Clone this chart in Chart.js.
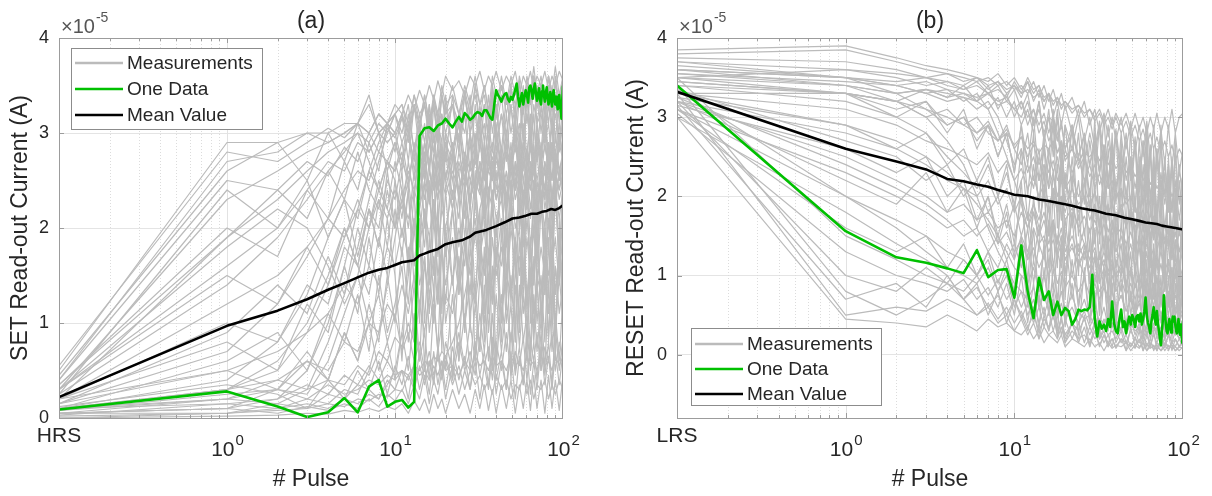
<!DOCTYPE html>
<html>
<head>
<meta charset="utf-8">
<title>SET / RESET read-out current vs pulse</title>
<script src="https://cdn.jsdelivr.net/npm/chart.js@4.4.1/dist/chart.umd.min.js"></script>
<style>
  body{margin:0;background:#fff;}
  .wrap{position:relative;width:1212px;height:496px;}
  .wrap canvas{position:absolute;top:0;}
</style>
</head>
<body>
<div class="wrap">
  <canvas id="chartA" width="606" height="496" style="left:0"></canvas>
  <canvas id="chartB" width="606" height="496" style="left:606px"></canvas>
</div>
<script>
// x positions: 0.1 stands for the initial state (HRS / LRS)
const pulses = [0.1,
  1,2,3,4,5,6,7,8,9,10,11,12,13,14,15,16,17,18,19,20,
  21,22,23,24,25,26,27,28,29,30,31,32,33,34,35,36,37,38,39,40,
  41,42,43,44,45,46,47,48,49,50,51,52,53,54,55,56,57,58,59,60,
  61,62,63,64,65,66,67,68,69,70,71,72,73,74,75,76,77,78,79,80,
  81,82,83,84,85,86,87,88,89,90,91,92,93,94,95,96,97,98,99,100];
const meanPulses = [0.1,1,2,3,4,5,6,7,8,9,10,11,12,13,14,15,16,18,20,22,25,28,30,35,40,45,50,55,60,65,70,75,80,85,90,95,100];
const measPulses = [0.1,1,2,3,4,5,6,7,8,9,10,11,12,13,14,15,16,17,18,19,20,
  22,24,26,28,30,32,34,36,38,40,43,46,49,52,55,58,61,64,67,70,74,78,82,86,90,95,100];

const xTickValues = [0.1, 1, 10, 100];
const xTickExp = ['', '0', '1', '2'];
const yTickValues = [0, 1, 2, 3, 4];

// values in units of 1e-5 A
const oneDataSet = [0.09,
  0.28,0.12,0.01,0.06,0.21,0.06,0.33,0.40,0.12,0.17,
  0.19,0.11,0.17,2.97,3.05,3.06,3.02,3.08,3.10,3.15,
  3.10,3.06,3.12,3.17,3.12,3.21,3.18,3.14,3.16,3.20,
  3.22,3.21,3.18,3.24,3.24,3.20,3.16,3.14,3.30,3.45,
  3.40,3.37,3.33,3.38,3.41,3.42,3.36,3.33,3.38,3.35,
  3.40,3.46,3.52,3.38,3.28,3.36,3.42,3.30,3.38,3.45,
  3.40,3.32,3.48,3.50,3.44,3.36,3.46,3.52,3.42,3.34,
  3.40,3.47,3.35,3.30,3.44,3.50,3.40,3.33,3.42,3.48,
  3.38,3.30,3.36,3.43,3.35,3.28,3.40,3.45,3.36,3.30,
  3.38,3.32,3.25,3.33,3.40,3.30,3.22,3.15,3.35,3.50];
const oneDataReset = [3.40,
  1.56,1.23,1.16,1.09,1.03,1.32,0.98,1.07,1.08,0.72,
  1.38,0.80,0.46,0.97,0.69,0.80,0.50,0.67,0.50,0.59,
  0.55,0.38,0.45,0.57,0.55,0.57,0.56,0.60,1.01,0.45,
  0.23,0.42,0.33,0.38,0.30,0.45,0.35,0.67,0.40,0.30,
  0.27,0.45,0.57,0.35,0.42,0.27,0.40,0.48,0.38,0.50,
  0.45,0.35,0.48,0.50,0.42,0.52,0.38,0.45,0.55,0.72,
  0.50,0.40,0.35,0.27,0.42,0.50,0.60,0.45,0.38,0.55,
  0.40,0.30,0.20,0.12,0.30,0.45,0.75,0.55,0.40,0.30,
  0.27,0.38,0.45,0.35,0.28,0.40,0.48,0.42,0.48,0.38,
  0.30,0.27,0.35,0.45,0.32,0.25,0.38,0.30,0.15,0.43];

const meanSet = [0.22,0.97,1.13,1.25,1.35,1.42,1.48,1.53,1.56,1.58,1.61,1.64,1.65,1.66,1.71,1.73,1.75,1.78,1.83,1.85,1.87,1.91,1.95,1.98,2.02,2.06,2.10,2.11,2.13,2.15,2.15,2.17,2.18,2.20,2.19,2.21,2.24];
const meanReset = [3.32,2.60,2.44,2.34,2.22,2.19,2.15,2.12,2.08,2.05,2.02,2.01,2.00,1.98,1.96,1.95,1.94,1.92,1.90,1.88,1.85,1.83,1.82,1.78,1.76,1.73,1.71,1.69,1.67,1.66,1.65,1.63,1.62,1.61,1.60,1.59,1.58];

// individual SET cycles (gray), one row per cycle, on measPulses
const measSet = [
  [0.5, 2.9,2.9,3.0,3.0,3.1,3.1,3.0,3.2,3.1,3.2, 3.3,3.1,3.4,3.2,3.3,3.1,3.4,3.2,3.5,3.3, 3.4,3.2,3.5,3.3,3.6,3.3,3.5,3.2,3.6,3.4, 3.5,3.3,3.6,3.4,3.5,3.2,3.6,3.4,3.7,3.4, 3.6,3.3,3.6,3.4,3.7,3.4,3.6],
  [0.4, 2.7,2.8,3.0,2.9,3.0,3.1,3.3,3.0,3.1,3.0, 3.2,2.9,3.3,3.0,3.4,3.1,3.3,2.9,3.4,3.1, 3.3,2.8,3.4,3.0,3.5,3.1,3.3,2.9,3.5,3.0, 3.4,2.9,3.5,3.1,3.4,2.9,3.5,3.0,3.6,3.1, 3.4,2.9,3.5,3.0,3.6,3.1,3.5],
  [0.3, 2.3,2.6,2.8,2.9,3.0,3.1,3.4,3.0,3.1,3.2, 3.0,3.3,2.8,3.2,2.9,3.3,2.7,3.1,2.9,3.4, 2.8,3.2,2.7,3.3,2.9,3.2,2.6,3.1,2.8,3.3, 2.7,3.2,2.6,3.1,2.8,3.3,2.7,3.2,2.6,3.1, 2.8,3.3,2.7,3.2,2.6,3.1,2.9],
  [0.2, 1.9,2.3,2.6,2.8,2.9,3.0,2.9,3.1,3.0,3.2, 2.9,3.1,2.6,3.0,2.7,3.2,2.8,3.0,2.5,2.9, 2.7,3.1,2.6,3.0,2.4,2.9,2.7,3.1,2.5,3.0, 2.6,2.9,2.4,3.0,2.6,3.1,2.5,2.9,2.7,3.0, 2.5,2.9,2.6,3.1,2.4,2.9,2.7],
  [0.3, 1.6,2.0,2.4,2.7,2.6,2.9,2.8,3.0,2.9,3.0, 2.7,3.0,2.5,2.9,2.6,3.1,2.4,2.8,2.6,3.0, 2.3,2.8,2.5,3.0,2.3,2.7,2.5,2.9,2.2,2.8, 2.4,2.9,2.3,2.7,2.5,2.9,2.2,2.7,2.4,2.8, 2.3,2.7,2.5,2.9,2.2,2.6,2.4],
  [0.15, 0.7,1.2,1.7,2.1,2.4,2.6,2.5,2.8,2.7,2.9, 2.6,3.0,2.7,3.1,2.5,2.9,2.8,3.2,2.6,3.0, 2.8,3.1,2.5,3.0,2.7,3.2,2.6,2.9,2.8,3.1, 2.6,3.0,2.7,3.2,2.5,2.9,2.8,3.1,2.6,3.0, 2.7,3.2,2.6,2.9,2.8,3.1,2.7],
  [0.1, 0.4,0.8,1.3,1.9,2.3,2.1,2.6,2.4,2.7,2.6, 2.8,2.4,2.9,2.5,2.8,2.3,2.7,2.5,2.9,2.4, 2.8,2.3,2.7,2.2,2.8,2.4,2.6,2.2,2.7,2.3, 2.6,2.1,2.7,2.3,2.5,2.1,2.6,2.2,2.5,2.0, 2.6,2.2,2.5,2.1,2.6,2.3,2.5],
  [0.05, 0.1,0.2,0.5,1.0,1.6,2.2,2.6,2.9,3.1,3.0, 3.2,3.0,3.3,3.1,3.4,3.1,3.3,3.0,3.4,3.2, 3.5,3.2,3.4,3.1,3.5,3.3,3.4,3.1,3.5,3.2, 3.6,3.3,3.5,3.2,3.6,3.4,3.5,3.3,3.6,3.3, 3.5,3.2,3.6,3.4,3.5,3.3,3.6],
  [0.08, 0.2,0.3,0.25,0.6,1.1,1.5,2.0,2.4,2.7,2.6, 2.9,2.5,2.8,2.3,2.9,2.6,3.0,2.4,2.8,2.5, 2.9,2.3,2.8,2.6,3.0,2.4,2.7,2.2,2.9,2.5, 2.8,2.3,2.9,2.4,2.7,2.2,2.8,2.5,2.9,2.3, 2.7,2.4,2.9,2.2,2.8,2.5,2.7],
  [0.1, 0.15,0.1,0.2,0.15,0.3,0.25,0.5,0.9,1.4,1.9, 2.3,2.6,2.4,2.8,2.5,2.9,2.6,2.3,2.8,2.5, 2.9,2.4,2.7,2.2,2.8,2.5,2.9,2.3,2.7,2.4, 2.8,2.2,2.6,2.4,2.9,2.3,2.7,2.5,2.8,2.2, 2.6,2.4,2.8,2.3,2.7,2.5,2.8],
  [0.05, 0.05,0.1,0.15,0.1,0.2,0.15,0.25,0.2,0.35,0.5, 0.9,1.5,2.0,2.4,2.6,2.3,2.7,2.4,2.8,2.5, 2.2,2.7,2.4,2.9,2.3,2.6,2.1,2.7,2.5,2.8, 2.3,2.6,2.0,2.5,2.7,2.2,2.6,2.4,2.8,2.1, 2.5,2.3,2.7,2.2,2.6,2.4,2.7],
  [0.2, 1.2,1.5,1.8,2.1,1.9,2.2,2.0,2.3,2.1,2.4, 2.2,2.5,2.0,2.6,2.3,2.7,2.1,2.5,2.4,2.8, 2.2,2.6,1.9,2.5,2.3,2.7,2.0,2.4,2.2,2.6, 1.9,2.5,2.2,2.7,2.0,2.4,2.3,2.6,1.9,2.5, 2.2,2.7,2.0,2.4,2.3,2.6,2.4],
  [0.15, 0.5,0.7,0.9,1.1,1.4,1.2,1.6,1.4,1.8,1.6, 2.0,1.7,2.1,1.8,2.2,1.9,2.3,1.7,2.2,2.0, 2.4,1.8,2.3,2.0,2.5,1.9,2.2,1.7,2.4,2.1, 2.3,1.8,2.5,2.0,2.2,1.8,2.4,2.1,2.5,1.9, 2.3,2.0,2.5,1.9,2.4,2.1,2.4],
  [0.1, 0.3,0.4,0.6,0.5,0.8,0.7,1.0,0.9,1.2,1.05, 1.4,1.1,1.5,1.2,1.6,1.3,1.7,1.2,1.8,1.4, 1.9,1.3,1.8,1.5,2.0,1.4,1.7,1.2,1.9,1.5, 1.8,1.3,2.0,1.6,1.7,1.3,1.9,1.5,2.0,1.4, 1.8,1.5,2.1,1.6,1.9,1.4,2.0],
  [0.05, 0.2,0.15,0.3,0.4,0.35,0.55,0.45,0.7,0.6,0.85, 0.75,1.0,0.8,1.2,0.9,1.3,1.0,1.4,0.9,1.3, 1.1,1.5,1.0,1.4,1.2,1.6,1.0,1.5,1.2,1.7, 1.1,1.5,1.3,1.7,1.0,1.6,1.2,1.8,1.1,1.5, 1.3,1.7,1.1,1.6,1.3,1.8,1.5],
  [0.02, 0.05,0.08,0.1,0.15,0.12,0.2,0.18,0.25,0.22,0.3, 0.28,0.45,0.3,0.55,0.35,0.6,0.4,0.7,0.45,0.8, 0.5,0.9,0.55,1.0,0.6,1.1,0.7,1.2,0.65,1.3, 0.7,1.2,0.8,1.4,0.75,1.3,0.9,1.5,0.8,1.4, 0.9,1.5,0.85,1.6,0.9,1.5,1.0],
  [0.05, 0.1,0.05,0.12,0.08,0.15,0.1,0.2,0.12,0.25,0.18, 0.3,0.15,0.35,0.2,0.45,0.15,0.4,0.25,0.5,0.2, 0.55,0.25,0.5,0.3,0.6,0.2,0.55,0.3,0.65,0.25, 0.6,0.3,0.7,0.2,0.65,0.35,0.7,0.25,0.6,0.3, 0.75,0.35,0.65,0.3,0.7,0.35,0.7],
  [0.0, 0.02,0.03,0.05,0.04,0.08,0.06,0.1,0.07,0.12,0.09, 0.15,0.05,0.18,0.08,0.2,0.05,0.25,0.1,0.2,0.05, 0.3,0.1,0.25,0.05,0.3,0.1,0.35,0.08,0.3,0.05, 0.35,0.1,0.4,0.05,0.35,0.1,0.4,0.08,0.45,0.1, 0.4,0.05,0.45,0.1,0.4,0.08,0.45],
  [0.12, 0.35,0.25,0.1,0.4,0.2,0.5,0.3,0.6,0.25,0.55, 0.35,0.65,0.3,0.7,0.4,0.6,0.35,0.75,0.45,0.65, 0.4,0.8,0.5,0.7,0.45,0.85,0.55,0.75,0.4,0.8, 0.5,0.9,0.45,0.7,0.55,0.85,0.4,0.8,0.6,0.9, 0.5,0.75,0.6,0.9,0.5,0.8,0.6],
  [0.4, 2.5,2.4,2.7,2.55,2.85,2.7,3.0,2.8,3.05,2.95, 3.15,3.0,3.25,3.1,3.3,3.0,3.35,3.15,3.4,3.2, 3.3,3.1,3.45,3.2,3.4,3.1,3.5,3.25,3.4,3.15, 3.5,3.2,3.45,3.3,3.55,3.2,3.5,3.3,3.6,3.25, 3.5,3.3,3.6,3.2,3.55,3.35,3.5],
  [0.2, 1.0,0.8,1.4,1.2,1.8,1.6,2.2,2.0,2.5,2.3, 2.7,2.5,2.85,2.6,2.9,2.7,2.95,2.65,2.85,2.55, 2.8,2.6,2.75,2.5,2.7,2.55,2.8,2.6,2.75,2.5, 2.7,2.45,2.75,2.55,2.8,2.5,2.7,2.6,2.8,2.5, 2.75,2.55,2.7,2.5,2.8,2.6,2.75],
  [0.3, 1.8,2.2,2.0,1.6,1.2,1.5,1.0,1.3,0.8,1.1, 0.7,0.9,0.6,0.8,0.5,0.7,0.45,0.65,0.4,0.6, 0.35,0.55,0.3,0.5,0.35,0.45,0.3,0.4,0.25,0.45, 0.3,0.4,0.2,0.35,0.3,0.45,0.25,0.4,0.2,0.35, 0.3,0.4,0.2,0.35,0.25,0.4,0.3],
  [0.25, 1.4,1.9,2.3,2.6,2.8,3.0,2.7,2.4,2.2,2.0, 2.3,2.1,2.4,2.2,2.5,2.25,2.55,2.3,2.5,2.35, 2.6,2.4,2.55,2.3,2.5,2.35,2.6,2.4,2.55,2.3, 2.5,2.35,2.6,2.4,2.55,2.3,2.5,2.4,2.6,2.3, 2.5,2.4,2.6,2.35,2.55,2.4,2.6],
  [0.08, 0.25,0.3,0.2,0.35,0.25,0.3,0.4,0.35,0.45,0.4, 0.5,0.45,0.55,0.5,0.6,0.55,0.65,0.6,0.7,0.65, 0.8,1.0,1.3,1.6,1.9,2.2,2.4,2.6,2.5,2.7, 2.6,2.8,2.65,2.85,2.6,2.9,2.7,2.85,2.6,2.9, 2.7,2.85,2.65,2.9,2.7,2.85,2.8],
  [0.55, 2.8,2.7,2.9,3.05,2.95,3.1,3.0,3.2,3.1,3.3, 3.2,3.4,3.25,3.45,3.3,3.5,3.35,3.55,3.4,3.6, 3.45,3.55,3.4,3.6,3.5,3.65,3.45,3.6,3.5,3.65, 3.45,3.6,3.5,3.65,3.4,3.6,3.5,3.65,3.45,3.6, 3.5,3.65,3.45,3.6,3.5,3.65,3.55],
  [0.03, 0.15,0.2,0.35,0.25,0.45,0.35,0.55,0.4,0.6,0.45, 0.5,0.4,0.55,0.45,0.5,0.4,0.55,0.45,0.6,0.5, 0.55,0.45,0.6,0.5,0.65,0.55,0.6,0.5,0.65,0.55, 0.6,0.5,0.65,0.55,0.6,0.5,0.65,0.55,0.6,0.5, 0.65,0.55,0.6,0.5,0.65,0.55,0.65],
  [0.1, 0.3,0.6,1.0,1.5,2.0,1.6,2.2,1.8,2.4,2.0, 2.6,1.5,2.4,1.0,2.2,1.4,2.7,1.2,2.5,1.7, 2.8,1.3,2.4,0.9,2.6,1.5,2.9,1.1,2.3,1.6, 2.7,1.2,2.5,0.8,2.8,1.4,2.6,1.0,2.4,1.7, 2.9,1.3,2.5,1.0,2.7,1.5,2.6],
  [0.2, 0.8,0.5,1.2,0.9,1.6,1.1,1.9,1.3,2.1,1.5, 0.6,1.8,0.8,2.0,0.5,1.6,1.0,2.2,0.7,1.9, 0.4,1.7,0.9,2.1,0.6,1.5,1.1,2.3,0.5,1.8, 0.8,2.0,0.4,1.6,1.0,2.2,0.6,1.9,0.9,1.5, 0.5,2.0,0.8,1.7,0.6,2.1,0.9],
  [0.35, 2.0,1.7,2.4,2.1,2.7,2.4,2.9,2.6,3.1,2.8, 3.2,2.7,3.3,2.8,3.1,2.6,3.3,2.9,3.2,2.7, 3.4,2.8,3.2,2.6,3.3,2.9,3.1,2.7,3.4,2.8, 3.2,2.7,3.3,2.9,3.1,2.6,3.4,2.8,3.2,2.7, 3.3,2.9,3.1,2.7,3.4,2.8,3.2],
  [0.1, 0.2,0.4,0.3,0.8,1.3,1.8,2.3,2.7,3.0,3.2, 3.3,3.0,3.4,3.1,3.3,2.9,3.4,3.1,3.2,3.0, 3.3,2.9,3.4,3.0,3.2,2.8,3.3,3.0,3.4,2.9, 3.2,3.0,3.3,2.8,3.4,3.0,3.2,2.9,3.3,3.1, 3.2,2.9,3.3,3.0,3.2,2.9,3.3],
  [0.3, 1.5,1.2,1.8,1.4,2.0,1.6,1.3,1.9,1.5,2.2, 1.7,2.4,1.4,2.1,1.0,1.9,1.3,2.3,1.1,2.0, 1.4,2.4,0.9,1.8,1.2,2.2,0.8,1.7,1.3,2.1, 1.0,2.3,1.2,1.9,0.9,2.2,1.1,1.8,1.4,2.4, 1.0,2.0,1.3,2.3,0.9,1.9,1.2],
  [0.1, 0.6,0.9,0.5,1.1,0.8,1.3,0.7,1.5,0.9,1.2, 1.6,0.8,1.4,0.6,1.7,0.9,1.3,0.7,1.8,1.0, 1.5,0.6,1.9,1.1,1.4,0.7,1.8,0.9,1.6,0.6, 2.0,1.0,1.5,0.8,1.9,1.1,1.4,0.7,1.7,1.0, 1.5,0.8,1.9,0.9,1.6,1.1,1.4],
  [0.25, 2.4,2.0,2.5,1.9,2.3,1.7,2.2,1.8,2.6,2.0, 2.4,1.6,2.1,1.9,2.5,1.5,2.3,2.0,2.6,1.7, 2.2,1.4,2.5,1.8,2.1,1.6,2.4,1.3,2.2,1.9, 2.6,1.5,2.3,1.7,2.0,1.4,2.5,1.8,2.2,1.6, 2.4,1.3,2.1,1.7,2.5,1.5,2.2],
  [0.15, 0.9,1.4,1.1,1.7,1.3,2.0,1.6,2.3,1.8,2.5, 2.1,2.7,2.3,2.9,2.0,2.6,2.4,2.9,2.2,2.8, 2.5,3.0,2.1,2.7,2.4,3.1,2.2,2.8,2.5,3.0, 2.3,2.9,2.6,3.1,2.2,2.8,2.5,3.0,2.3,2.9, 2.6,3.1,2.4,2.8,2.5,3.0,2.7],
  [0.05, 0.1,0.3,0.6,0.4,0.9,0.6,1.2,0.8,1.5,1.0, 1.8,1.2,2.0,1.4,1.7,1.1,2.1,1.5,1.8,1.2, 2.2,1.6,1.9,1.3,2.3,1.7,2.0,1.4,2.4,1.6, 2.1,1.3,2.2,1.8,2.5,1.5,2.1,1.7,2.4,1.4, 2.2,1.8,2.5,1.6,2.3,1.7,2.4],
  [0.45, 2.6,2.9,2.5,3.0,2.7,3.1,2.8,3.0,2.6,2.9, 2.7,3.2,2.8,3.1,2.6,3.3,2.9,3.2,2.7,3.3, 2.8,3.2,3.0,3.4,2.8,3.3,2.9,3.4,3.0,3.3, 2.8,3.4,3.0,3.3,2.9,3.5,3.1,3.4,2.9,3.5, 3.0,3.4,3.1,3.5,2.9,3.4,3.1],
  [0.2, 0.5,0.3,0.7,0.4,0.9,0.6,1.0,0.5,0.8,0.4, 0.9,0.5,1.1,0.6,0.9,0.4,1.2,0.7,1.0,0.5, 1.3,0.6,1.1,0.5,1.2,0.7,1.4,0.6,1.1,0.5, 1.3,0.7,1.2,0.5,1.4,0.8,1.1,0.6,1.3,0.7, 1.2,0.5,1.4,0.7,1.1,0.6,1.3],
  [0.08, 0.3,0.5,0.9,1.4,1.9,2.3,2.0,2.5,2.2,2.7, 2.4,2.0,2.6,2.2,2.8,2.3,2.0,2.7,2.4,2.9, 2.5,2.1,2.7,2.3,2.9,2.4,2.1,2.8,2.5,3.0, 2.6,2.2,2.8,2.4,3.0,2.5,2.2,2.9,2.6,3.1, 2.7,2.3,2.9,2.5,3.0,2.6,2.8],
  [0.0, 0.05,0.15,0.1,0.25,0.2,0.35,0.3,0.2,0.4,0.3, 0.5,0.2,0.6,0.3,0.55,0.25,0.7,0.35,0.6,0.3, 0.75,0.4,0.65,0.3,0.8,0.45,0.7,0.35,0.85,0.4, 0.7,0.3,0.9,0.45,0.75,0.35,0.95,0.5,0.8,0.4, 0.9,0.45,0.8,0.35,0.95,0.5,0.85],
  [0.35, 1.9,2.4,2.1,2.6,2.3,2.8,2.4,2.2,2.7,2.5, 1.9,2.4,1.6,2.2,1.8,2.5,1.5,2.1,1.7,2.4, 1.4,2.0,1.6,2.3,1.3,1.9,1.5,2.2,1.2,1.8, 1.6,2.1,1.3,1.9,1.5,2.2,1.2,1.8,1.4,2.0, 1.1,1.7,1.5,2.0,1.3,1.8,1.4]
];

// individual RESET cycles (gray), one row per cycle, on measPulses
const measReset = [
  [3.8, 3.85,3.7,3.6,3.55,3.5,3.45,3.5,3.4,3.45,3.35, 3.4,3.3,3.45,3.25,3.4,3.2,3.35,3.15,3.3,3.1, 3.25,3.0,3.2,2.9,3.1,2.8,3.05,2.75,3.0,2.7, 3.0,2.6,2.95,2.55,2.9,2.5,2.95,2.45,2.9,2.4, 2.85,2.4,2.9,2.35,2.8,2.3,2.6],
  [3.7, 3.6,3.55,3.5,3.45,3.4,3.5,3.35,3.45,3.3,3.4, 3.25,3.45,3.2,3.35,3.1,3.3,3.0,3.2,2.9,3.15, 2.8,3.1,2.7,3.0,2.6,2.95,2.5,2.9,2.4,2.85, 2.3,2.8,2.2,2.75,2.1,2.7,2.0,2.65,1.9,2.6, 1.9,2.5,1.8,2.45,1.7,2.4,1.9],
  [3.6, 3.5,3.4,3.45,3.35,3.3,3.25,3.3,3.2,3.25,3.1, 3.2,3.0,3.1,2.9,3.05,2.8,3.0,2.7,2.95,2.6, 2.9,2.5,2.8,2.4,2.7,2.3,2.65,2.2,2.6,2.1, 2.5,2.0,2.45,1.9,2.4,1.85,2.3,1.8,2.25,1.7, 2.2,1.6,2.1,1.55,2.0,1.5,1.9],
  [3.5, 3.4,3.3,3.35,3.25,3.3,3.2,3.4,3.1,3.3,3.0, 3.2,2.9,3.1,2.8,2.95,2.7,2.85,2.55,2.7,2.45, 2.6,2.35,2.5,2.25,2.4,2.15,2.3,2.1,2.2,2.0, 2.1,1.9,2.0,1.8,1.9,1.7,1.85,1.6,1.75,1.5, 1.7,1.45,1.6,1.4,1.55,1.3,1.5],
  [3.4, 3.3,3.2,3.1,3.0,2.9,2.8,2.95,2.7,2.85,2.6, 2.75,2.5,2.65,2.4,2.55,2.3,2.45,2.2,2.35,2.1, 2.25,2.0,2.15,1.9,2.05,1.85,1.95,1.8,1.9,1.7, 1.85,1.6,1.8,1.5,1.7,1.45,1.65,1.4,1.6,1.3, 1.55,1.25,1.5,1.2,1.45,1.15,1.3],
  [3.3, 3.1,2.9,2.7,2.6,2.5,2.4,2.55,2.3,2.45,2.2, 2.35,2.1,2.25,2.0,2.15,1.9,2.05,1.8,1.95,1.7, 1.85,1.6,1.75,1.55,1.7,1.5,1.65,1.4,1.55,1.3, 1.5,1.2,1.4,1.1,1.35,1.0,1.3,0.95,1.2,0.9, 1.15,0.85,1.1,0.8,1.05,0.75,0.9],
  [3.2, 2.8,2.6,2.4,2.2,2.1,2.0,2.2,1.9,2.1,1.8, 2.0,1.7,1.9,1.6,1.8,1.5,1.7,1.4,1.6,1.3, 1.5,1.25,1.4,1.2,1.35,1.1,1.3,1.05,1.2,1.0, 1.15,0.9,1.1,0.85,1.0,0.8,0.95,0.75,0.9,0.7, 0.85,0.65,0.8,0.6,0.75,0.55,0.7],
  [3.1, 2.3,2.0,1.8,1.6,1.7,1.5,1.65,1.4,1.55,1.3, 1.45,1.2,1.35,1.1,1.25,1.0,1.15,0.9,1.05,0.85, 1.0,0.8,0.95,0.75,0.9,0.7,0.85,0.65,0.8,0.6, 0.75,0.55,0.7,0.5,0.7,0.45,0.65,0.4,0.6,0.4, 0.55,0.35,0.5,0.3,0.5,0.3,0.45],
  [3.3, 0.5,0.6,0.55,0.7,0.6,0.5,0.65,0.45,0.6,0.4, 0.55,0.35,0.5,0.3,0.45,0.35,0.5,0.3,0.45,0.25, 0.4,0.3,0.45,0.25,0.4,0.2,0.35,0.25,0.3,0.2, 0.35,0.15,0.3,0.2,0.35,0.15,0.3,0.1,0.25,0.15, 0.3,0.1,0.25,0.15,0.2,0.1,0.2],
  [3.4, 0.8,0.5,0.7,0.9,0.8,1.0,0.75,0.95,0.7,0.85, 0.6,0.8,0.55,0.75,0.5,0.7,0.45,0.65,0.5,0.6, 0.4,0.55,0.45,0.5,0.35,0.45,0.4,0.5,0.35,0.45, 0.3,0.45,0.35,0.4,0.3,0.45,0.25,0.4,0.3,0.35, 0.25,0.4,0.3,0.35,0.25,0.35,0.3],
  [3.2, 1.0,0.8,1.1,0.9,1.2,1.0,1.3,1.1,1.4,1.2, 1.5,1.3,1.6,1.4,1.5,1.3,1.45,1.25,1.4,1.2, 1.35,1.15,1.3,1.1,1.25,1.05,1.2,1.0,1.15,0.95, 1.1,0.9,1.05,0.85,1.0,0.8,0.95,0.75,0.9,0.7, 0.85,0.7,0.8,0.65,0.75,0.6,0.7],
  [3.5, 1.5,1.2,1.0,0.9,0.7,0.85,0.6,0.75,0.5,0.7, 0.45,0.65,0.4,0.6,0.35,0.55,0.3,0.5,0.25,0.45, 0.2,0.4,0.15,0.35,0.2,0.3,0.15,0.25,0.1,0.3, 0.15,0.25,0.1,0.2,0.15,0.25,0.1,0.2,0.05,0.15, 0.1,0.2,0.05,0.15,0.1,0.2,0.1],
  [3.0, 0.45,0.4,0.35,0.5,0.4,0.3,0.45,0.35,0.4,0.3, 0.25,0.35,0.2,0.3,0.15,0.25,0.2,0.15,0.25,0.1, 0.2,0.15,0.1,0.2,0.1,0.15,0.05,0.15,0.08,0.12, 0.1,0.15,0.05,0.12,0.08,0.15,0.05,0.1,0.08,0.12, 0.05,0.1,0.08,0.12,0.05,0.1,0.08],
  [3.6, 3.4,3.2,3.0,2.7,2.4,2.0,1.6,1.3,1.1,0.9, 0.8,0.7,0.85,0.6,0.75,0.55,0.7,0.5,0.65,0.45, 0.6,0.4,0.55,0.35,0.5,0.3,0.45,0.35,0.4,0.3, 0.45,0.25,0.4,0.3,0.35,0.25,0.4,0.2,0.35,0.25, 0.3,0.2,0.35,0.25,0.3,0.2,0.3],
  [3.3, 3.3,3.2,3.35,3.25,3.4,3.2,3.1,2.8,2.5,2.2, 1.9,1.6,1.8,1.5,1.7,1.4,1.6,1.3,1.5,1.2, 1.4,1.1,1.3,1.0,1.2,0.9,1.1,0.85,1.0,0.8, 0.95,0.75,0.9,0.7,0.85,0.65,0.8,0.6,0.75,0.55, 0.7,0.5,0.65,0.45,0.6,0.4,0.55],
  [3.5, 3.6,3.5,3.4,3.45,3.35,3.4,3.3,3.35,3.25,3.45, 3.3,3.5,3.35,3.4,3.2,3.3,3.0,2.8,2.5,2.2, 1.9,1.6,1.4,1.2,1.0,0.8,0.9,0.7,0.8,0.6, 0.75,0.55,0.7,0.5,0.65,0.45,0.6,0.4,0.55,0.35, 0.5,0.3,0.45,0.3,0.4,0.25,0.35],
  [3.1, 2.0,1.6,1.3,1.1,1.0,0.9,1.1,0.8,1.0,0.6, 0.8,0.5,0.7,0.4,0.6,0.3,0.5,0.25,0.45,0.2, 0.4,0.15,0.35,0.1,0.3,0.12,0.25,0.1,0.2,0.08, 0.2,0.05,0.15,0.08,0.2,0.05,0.15,0.08,0.12,0.05, 0.15,0.05,0.12,0.08,0.1,0.05,0.1],
  [3.4, 3.2,3.0,2.8,2.5,2.3,2.1,2.4,2.0,2.3,1.9, 2.2,2.4,2.1,2.5,2.2,2.6,2.3,2.5,2.2,2.6, 2.3,2.5,2.2,2.4,2.1,2.3,2.0,2.2,1.9,2.1, 1.8,2.0,1.7,1.9,1.6,1.85,1.5,1.8,1.45,1.7, 1.4,1.65,1.35,1.6,1.3,1.55,1.4],
  [3.7, 3.5,3.3,3.1,2.9,3.0,2.8,2.9,2.7,2.8,2.65, 2.75,2.6,2.7,2.55,2.65,2.6,2.7,2.55,2.65,2.5, 2.6,2.45,2.55,2.5,2.6,2.45,2.55,2.4,2.5,2.35, 2.45,2.3,2.4,2.25,2.35,2.2,2.3,2.15,2.25,2.1, 2.2,2.05,2.15,2.0,2.1,1.95,2.05],
  [3.2, 2.5,2.2,2.0,1.8,1.9,1.7,1.8,1.6,1.7,1.5, 1.8,1.6,1.9,1.7,2.0,1.8,2.1,1.9,2.0,1.8, 2.1,1.9,2.0,1.85,2.05,1.8,2.0,1.75,1.95,1.7, 1.9,1.65,1.85,1.6,1.8,1.55,1.75,1.5,1.7,1.45, 1.65,1.4,1.6,1.35,1.55,1.3,1.5],
  [3.85, 3.9,3.75,3.65,3.6,3.55,3.5,3.45,3.55,3.4,3.5, 3.35,3.45,3.3,3.4,3.25,3.3,3.2,3.25,3.15,3.2, 3.1,3.15,3.05,3.1,3.0,3.1,2.95,3.1,2.9,3.05, 2.9,3.05,2.85,3.05,2.85,3.0,2.8,3.0,2.85,3.05, 2.8,3.0,2.85,3.1,2.8,3.0,3.05],
  [3.0, 1.8,1.4,1.2,1.0,0.7,0.5,0.6,0.4,0.5,0.3, 0.45,0.25,0.4,0.2,0.35,0.25,0.3,0.2,0.35,0.15, 0.3,0.2,0.25,0.15,0.3,0.1,0.25,0.15,0.2,0.1, 0.2,0.15,0.1,0.2,0.1,0.15,0.05,0.15,0.1,0.12, 0.05,0.15,0.1,0.12,0.05,0.1,0.08],
  [3.55, 3.45,3.4,3.3,3.2,3.25,3.1,3.2,3.0,2.7,2.4, 2.6,2.3,2.5,2.2,2.4,2.1,2.3,2.0,2.2,1.9, 2.1,1.8,2.0,1.7,1.9,1.6,1.8,1.55,1.7,1.5, 1.6,1.4,1.55,1.3,1.5,1.25,1.4,1.2,1.35,1.1, 1.3,1.05,1.2,1.0,1.15,0.95,1.1],
  [3.25, 2.9,2.7,2.5,2.3,2.1,1.9,1.7,1.5,1.3,1.1, 1.0,0.9,1.1,0.8,1.0,0.7,0.9,0.6,0.8,0.55, 0.75,0.5,0.7,0.45,0.65,0.4,0.6,0.35,0.55,0.3, 0.5,0.3,0.45,0.25,0.4,0.2,0.35,0.25,0.4,0.2, 0.35,0.2,0.3,0.15,0.3,0.2,0.25],
  [3.45, 3.3,3.1,3.2,2.9,3.0,2.7,2.9,2.5,2.8,2.3, 2.9,2.0,2.8,1.8,2.7,2.1,3.0,1.6,2.6,1.9, 2.9,1.5,2.7,1.8,3.0,1.4,2.6,1.7,2.8,1.3, 2.7,1.6,2.9,1.2,2.5,1.5,2.8,1.1,2.6,1.4, 2.9,1.0,2.5,1.3,2.7,0.9,2.4],
  [3.15, 2.6,2.3,2.5,2.0,2.2,1.7,2.0,1.4,1.8,1.2, 2.2,0.9,2.0,1.3,2.4,0.8,2.1,1.1,2.5,0.7, 2.3,1.0,2.6,0.6,2.2,0.9,2.5,0.5,2.1,0.8, 2.4,0.6,2.0,0.9,2.3,0.5,2.6,0.7,2.2,0.4, 2.0,0.8,2.4,0.5,2.1,0.6,1.9],
  [3.65, 3.5,3.45,3.5,3.4,3.35,3.45,3.3,3.4,3.2,3.35, 3.1,3.3,2.9,3.2,2.7,3.1,2.5,3.0,2.3,2.9, 2.1,2.8,1.9,2.7,2.2,2.9,1.8,2.6,2.0,2.8, 1.7,2.5,1.9,2.7,1.6,2.4,1.8,2.6,1.5,2.5, 1.7,2.3,1.4,2.4,1.6,2.2,1.5],
  [3.35, 2.0,1.7,1.5,1.3,1.2,1.0,1.3,0.9,1.2,0.8, 1.5,0.7,1.6,0.6,1.4,0.9,1.7,0.5,1.5,0.8, 1.8,0.6,1.4,0.9,1.6,0.5,1.9,0.7,1.5,0.4, 1.7,0.8,1.3,0.5,1.6,0.7,1.8,0.4,1.4,0.6, 1.6,0.3,1.5,0.7,1.3,0.4,1.2],
  [3.75, 3.7,3.6,3.5,3.55,3.45,3.5,3.4,3.45,3.35,3.4, 3.3,3.35,3.25,3.3,3.2,3.3,3.15,3.25,3.1,3.2, 3.05,3.15,3.0,3.1,2.95,3.05,2.9,3.0,2.85,3.0, 2.8,2.95,2.75,2.9,2.7,2.85,2.65,2.8,2.6,2.75, 2.55,2.7,2.5,2.65,2.45,2.6,2.5],
  [3.05, 1.3,1.0,0.9,0.8,0.95,0.7,0.85,0.6,0.9,0.5, 1.0,0.4,0.9,0.3,1.1,0.5,0.8,0.3,1.0,0.35, 0.9,0.25,1.1,0.4,0.8,0.2,1.0,0.35,0.9,0.3, 1.1,0.25,0.8,0.35,1.0,0.2,0.9,0.3,1.2,0.25, 0.8,0.35,1.0,0.2,0.9,0.3,1.0],
  [3.3, 2.9,2.6,2.8,2.4,2.6,2.2,2.5,2.0,2.4,1.8, 2.6,1.7,2.4,1.9,2.7,1.5,2.3,1.8,2.6,1.4, 2.5,1.7,2.2,1.3,2.6,1.6,2.3,1.2,2.5,1.5, 2.1,1.1,2.4,1.4,2.0,1.0,2.3,1.3,2.5,1.2, 2.1,0.9,2.2,1.2,1.9,0.8,2.0],
  [3.2, 2.2,1.9,2.3,1.8,2.1,1.6,2.0,1.5,1.9,1.4, 2.0,1.2,1.8,1.5,2.1,1.1,1.7,1.4,2.0,1.0, 1.8,1.3,1.6,0.9,1.9,1.2,1.5,0.8,1.7,1.1, 1.4,0.7,1.8,1.0,1.5,0.6,1.6,0.9,1.3,0.5, 1.5,0.8,1.2,0.6,1.4,0.7,1.1],
  [3.5, 3.3,3.0,3.2,2.8,3.1,2.6,2.9,2.5,2.8,2.3, 2.9,2.4,3.0,2.2,2.8,2.5,3.1,2.3,2.7,2.1, 2.9,2.4,2.6,2.0,2.8,2.3,3.0,2.1,2.6,1.9, 2.8,2.2,2.5,1.8,2.7,2.0,2.9,1.9,2.5,1.7, 2.7,2.0,2.4,1.8,2.6,1.9,2.3],
  [3.1, 1.6,1.3,1.5,1.1,1.4,1.0,1.2,0.8,1.1,0.7, 1.3,0.6,1.2,0.8,1.4,0.5,1.1,0.7,1.3,0.4, 1.2,0.6,1.0,0.4,1.3,0.5,1.1,0.3,1.2,0.5, 0.9,0.3,1.1,0.4,1.0,0.2,1.2,0.4,0.9,0.3, 1.0,0.2,0.8,0.4,1.1,0.3,0.9],
  [3.6, 3.5,3.4,3.3,3.35,3.2,3.3,3.1,3.25,3.0,3.2, 2.9,3.1,2.8,3.2,2.7,3.0,2.6,3.1,2.5,2.9, 2.6,3.0,2.4,2.8,2.5,2.9,2.3,2.7,2.4,2.8, 2.2,2.7,2.3,2.6,2.1,2.7,2.2,2.5,2.0,2.6, 2.1,2.4,1.9,2.5,2.0,2.3,2.1],
  [3.35, 2.7,2.5,2.2,2.4,2.0,2.2,1.8,2.0,1.6,1.9, 1.5,1.8,1.2,1.6,1.4,1.9,1.1,1.5,1.3,1.7, 1.0,1.4,1.2,1.6,0.9,1.3,1.1,1.5,0.8,1.2, 1.0,1.4,0.7,1.1,0.9,1.3,0.6,1.0,0.8,1.2, 0.6,0.9,0.7,1.1,0.5,0.8,0.7],
  [3.45, 3.3,3.2,3.0,3.1,2.9,3.0,2.8,2.7,2.9,2.6, 2.4,2.8,2.2,2.6,2.0,2.5,1.9,2.4,1.7,2.3, 1.6,2.2,1.5,2.1,1.4,2.0,1.3,1.9,1.2,1.8, 1.1,1.7,1.0,1.6,0.9,1.5,0.8,1.4,0.7,1.3, 0.7,1.2,0.6,1.1,0.5,1.0,0.6],
  [3.15, 0.7,0.9,0.6,1.0,0.7,0.9,0.5,0.8,0.4,0.7, 0.5,0.3,0.6,0.2,0.5,0.3,0.7,0.2,0.5,0.15, 0.4,0.2,0.5,0.1,0.4,0.2,0.3,0.1,0.4,0.15, 0.3,0.05,0.35,0.1,0.3,0.05,0.25,0.1,0.3,0.05, 0.2,0.1,0.25,0.05,0.2,0.1,0.15],
  [3.55, 3.4,3.3,3.35,3.3,3.25,3.2,3.3,3.15,3.2,3.1, 3.0,3.2,2.9,3.1,2.8,3.0,2.95,2.7,2.9,2.6, 2.8,2.5,2.75,2.4,2.7,2.3,2.65,2.2,2.6,2.1, 2.55,2.0,2.5,2.1,2.4,1.9,2.45,2.0,2.35,1.8, 2.3,1.9,2.25,1.8,2.2,1.7,2.1],
  [3.25, 2.4,2.1,1.9,1.7,1.5,1.6,1.3,1.5,1.2,1.4, 1.1,1.6,0.9,1.4,1.2,1.7,0.8,1.3,1.1,1.5, 0.7,1.2,1.0,1.4,0.6,1.1,0.9,1.3,0.5,1.0, 0.8,1.2,0.5,0.9,0.7,1.1,0.4,0.8,0.6,1.0, 0.4,0.7,0.5,0.9,0.3,0.6,0.5]
];

const FONT = '"Liberation Sans", Arial, Helvetica, sans-serif';
const TXT = '#262626';
const GRAY = '#bbbbbb';
const GREEN = '#00c000';

function toPts(xs, ys) {
  return xs.map((x, i) => ({x: x, y: ys[i]}));
}

const decoPlugin = {
  id: 'deco',
  beforeDatasetsDraw(chart, args, o) {
    const ctx = chart.ctx, a = chart.chartArea, xs = chart.scales.x;
    ctx.save();
    ctx.lineWidth = 1;
    for (let n = -1; n <= 1; n++) {
      for (let k = 1; k <= 9; k++) {
        const v = k * Math.pow(10, n);
        if (v <= 0.1 || v >= 100) continue;
        const px = Math.round(xs.getPixelForValue(v)) + 0.5;
        ctx.strokeStyle = k === 1 ? '#e2e2e2' : '#dcdcdc';
        ctx.setLineDash(k === 1 ? [] : [1, 2]);
        ctx.beginPath(); ctx.moveTo(px, a.top); ctx.lineTo(px, a.bottom); ctx.stroke();
      }
    }
    ctx.restore();
  },
  afterDatasetsDraw(chart, args, o) {
    const ctx = chart.ctx, a = chart.chartArea, xs = chart.scales.x, ys = chart.scales.y;
    ctx.save();
    // axes box and inward ticks
    ctx.strokeStyle = '#9c9c9c';
    ctx.lineWidth = 1;
    ctx.strokeRect(Math.round(a.left) + 0.5, Math.round(a.top) + 0.5, Math.round(a.width) - 1, Math.round(a.height));
    ctx.beginPath();
    for (let n = -1; n <= 1; n++) {
      for (let k = 1; k <= 9; k++) {
        const v = k * Math.pow(10, n);
        if (v <= 0.1 || v >= 100) continue;
        const px = Math.round(xs.getPixelForValue(v)) + 0.5;
        const len = k === 1 ? 5 : 3;
        ctx.moveTo(px, a.bottom); ctx.lineTo(px, a.bottom - len);
        ctx.moveTo(px, a.top); ctx.lineTo(px, a.top + len);
      }
    }
    yTickValues.forEach(v => {
      const py = Math.round(ys.getPixelForValue(v)) + 0.5;
      ctx.moveTo(a.left, py); ctx.lineTo(a.left + 5, py);
      ctx.moveTo(a.right, py); ctx.lineTo(a.right - 5, py);
    });
    ctx.stroke();

    // legend
    const L = o.legend;
    ctx.fillStyle = '#fff';
    ctx.fillRect(L.x, L.y, L.w, L.h);
    ctx.strokeStyle = '#8c8c8c';
    ctx.strokeRect(L.x + 0.5, L.y + 0.5, L.w, L.h);
    const entries = [['Measurements', GRAY], ['One Data', GREEN], ['Mean Value', '#000']];
    ctx.font = '19px ' + FONT;
    ctx.textBaseline = 'middle';
    ctx.textAlign = 'left';
    entries.forEach((e, i) => {
      const yy = L.y + L.rows[i];
      ctx.strokeStyle = e[1];
      ctx.lineWidth = 2.6;
      ctx.beginPath(); ctx.moveTo(L.x + 4, yy); ctx.lineTo(L.x + 52, yy); ctx.stroke();
      ctx.fillStyle = TXT;
      ctx.fillText(e[0], L.x + 56, yy + 1);
    });

    // x tick labels
    ctx.fillStyle = TXT;
    ctx.textBaseline = 'alphabetic';
    xTickValues.forEach((v, i) => {
      const px = xs.getPixelForValue(v);
      if (i === 0) {
        ctx.font = '21px ' + FONT;
        ctx.textAlign = 'center';
        ctx.fillText(o.state, px, 442);
      } else {
        ctx.font = '21px ' + FONT;
        const wb = ctx.measureText('10').width;
        ctx.font = '15px ' + FONT;
        const we = ctx.measureText(xTickExp[i]).width;
        const x0 = px - (wb + we) / 2;
        ctx.textAlign = 'left';
        ctx.font = '21px ' + FONT;
        ctx.fillText('10', x0, 456);
        ctx.font = '15px ' + FONT;
        ctx.fillText(xTickExp[i], x0 + wb + 1, 445);
      }
    });

    // exponent marker
    ctx.fillStyle = '#555';
    ctx.textAlign = 'left';
    ctx.font = '20px ' + FONT;
    ctx.fillText('\u00d710', a.left + 2, 33);
    const wm = ctx.measureText('\u00d710').width;
    ctx.font = '14px ' + FONT;
    ctx.fillText('-5', a.left + 3 + wm, 22);

    // titles
    ctx.fillStyle = TXT;
    const cx = (a.left + a.right) / 2;
    ctx.textAlign = 'center';
    ctx.font = '23px ' + FONT;
    ctx.fillText(o.title, cx, 28);
    ctx.fillText('# Pulse', cx, 486);
    ctx.translate(o.ylabelX, (a.top + a.bottom) / 2);
    ctx.rotate(-Math.PI / 2);
    ctx.textBaseline = 'middle';
    ctx.fillText(o.ylabel, 0, 0);
    ctx.restore();
  }
};

function makeChart(id, p) {
  const datasets = [
    {label: 'Mean Value', data: toPts(meanPulses, p.mean), borderColor: '#000', borderWidth: 2.6},
    {label: 'One Data', data: toPts(pulses, p.one), borderColor: GREEN, borderWidth: 2.6}
  ];
  p.meas.forEach(m => datasets.push({label: 'Measurements', data: toPts(measPulses, m), borderColor: GRAY, borderWidth: 1.2}));
  datasets.forEach(d => { d.pointRadius = 0; d.tension = 0; d.borderJoinStyle = 'round'; d.fill = false; });

  return new Chart(document.getElementById(id), {
    type: 'line',
    data: {datasets: datasets},
    options: {
      responsive: false,
      animation: false,
      devicePixelRatio: 1,
      layout: {padding: {left: 0, top: 38, right: 606 - p.right, bottom: 0}},
      plugins: {
        legend: {display: false},
        tooltip: {enabled: false},
        deco: {legend: p.legend, state: p.state, title: p.title, ylabel: p.ylabel, ylabelX: p.ylabelX}
      },
      scales: {
        x: {
          type: 'logarithmic', min: 0.1, max: 100,
          ticks: {display: false},
          grid: {display: false},
          border: {display: false},
          afterFit(s) { s.height = 78; }
        },
        y: {
          type: 'linear', min: p.yMin, max: 4,
          afterBuildTicks(s) { s.ticks = yTickValues.map(v => ({value: v})); },
          ticks: {color: TXT, font: {family: FONT, size: 18}, padding: 10},
          grid: {color: '#e4e4e4', drawTicks: false},
          border: {display: false},
          afterFit(s) { s.width = p.left; }
        }
      }
    },
    plugins: [decoPlugin]
  });
}

makeChart('chartA', {
  left: 59, right: 563, yMin: 0,
  mean: meanSet, one: oneDataSet, meas: measSet,
  state: 'HRS', title: '(a)', ylabel: 'SET Read-out Current (A)', ylabelX: 21,
  legend: {x: 71, y: 48, w: 191, h: 81, rows: [15, 41, 67]}
});
makeChart('chartB', {
  left: 71, right: 577, yMin: -0.8,
  mean: meanReset, one: oneDataReset, meas: measReset,
  state: 'LRS', title: '(b)', ylabel: 'RESET Read-out Current (A)', ylabelX: 31,
  legend: {x: 85, y: 328, w: 190, h: 77, rows: [16, 41, 66]}
});
</script>
</body>
</html>
